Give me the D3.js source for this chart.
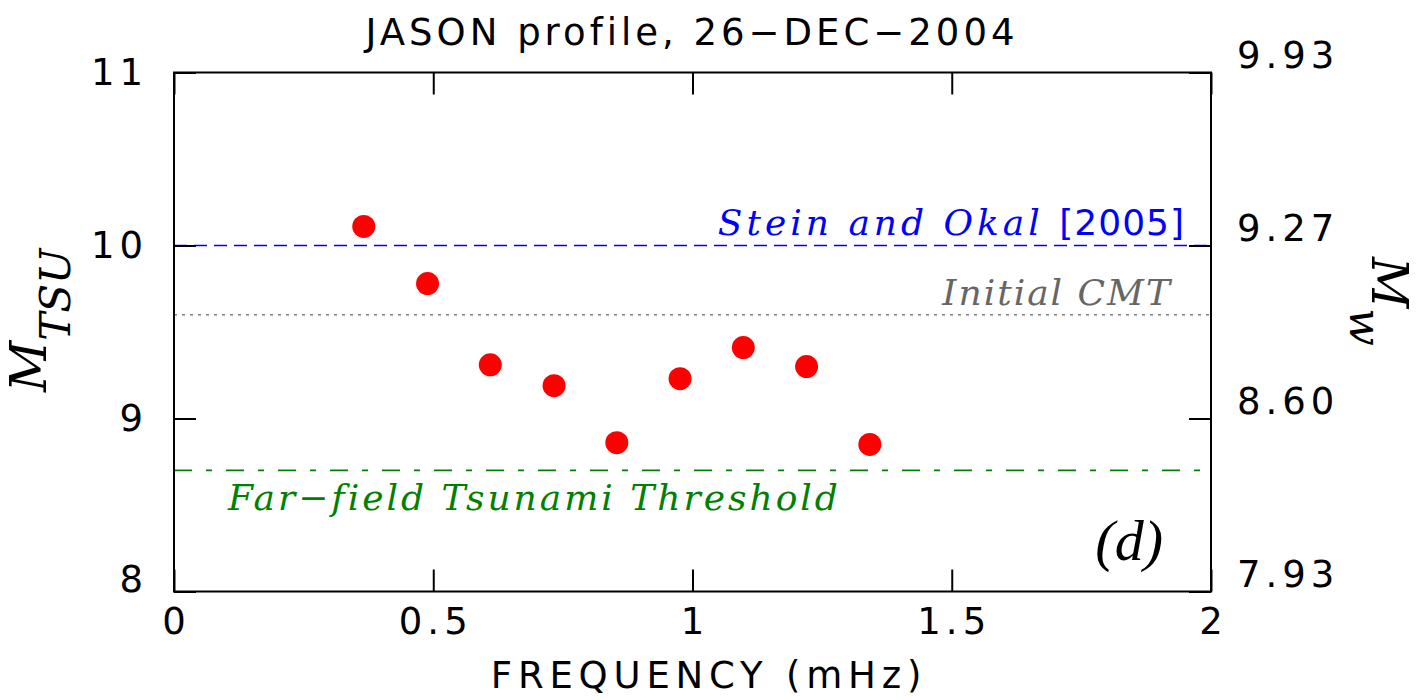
<!DOCTYPE html>
<html>
<head>
<meta charset="utf-8">
<script src="https://cdn.jsdelivr.net/npm/d3@7"></script>
<style>
  body { margin: 0; background: #fff; }
  svg { display: block; }
</style>
</head>
<body>
<div id="chart"></div>
<script>
// values
const freq = [0.366, 0.489, 0.610, 0.733, 0.854, 0.976, 1.098, 1.220, 1.342];
const mtsu = [10.11, 9.78, 9.31, 9.19, 8.86, 9.23, 9.41, 9.30, 8.85];

const xTicks = [0, 0.5, 1, 1.5, 2];
const xTickLabels = ['0', '0.5', '1', '1.5', '2'];
const yTicks = [8, 9, 10, 11];
const yTickLabels = ['8', '9', '10', '11'];
const mwTickLabels = ['7.93', '8.60', '9.27', '9.93'];

// reference levels: Stein & Okal, initial CMT, tsunami threshold
const refValues = [10.0, 9.6, 8.7];

const width = 1426;
const height = 700;
const margin = { top: 72.5, right: 215, bottom: 108.5, left: 174 };

const area = {
  left: margin.left,
  right: width - margin.right,
  top: margin.top,
  bottom: height - margin.bottom,
};

const svg = d3.select('#chart')
  .append('svg')
  .attr('width', width)
  .attr('height', height);

const xScale = d3.scaleLinear().domain([0, 2]).range([area.left, area.right]);
const yScale = d3.scaleLinear().domain([8, 11]).range([area.bottom, area.top]);

const sans = '"DejaVu Sans", sans-serif';
const serif = '"DejaVu Serif", serif';
const spacing = 5; // the plot font is narrow with wide gaps

// reference lines first, under the dots
const lines = svg.append('g').attr('class', 'ref-lines');

lines.append('line')
  .attr('x1', xScale(0)).attr('x2', xScale(2))
  .attr('y1', yScale(refValues[0])).attr('y2', yScale(refValues[0]))
  .attr('stroke', '#0000ff').attr('stroke-width', 1.6)
  .attr('stroke-dasharray', '13 7');

lines.append('line')
  .attr('x1', xScale(0)).attr('x2', xScale(2))
  .attr('y1', yScale(refValues[1])).attr('y2', yScale(refValues[1]))
  .attr('stroke', '#808080').attr('stroke-width', 1.6)
  .attr('stroke-dasharray', '3 5');

lines.append('line')
  .attr('x1', xScale(0)).attr('x2', xScale(1.98))
  .attr('y1', yScale(refValues[2])).attr('y2', yScale(refValues[2]))
  .attr('stroke', '#008000').attr('stroke-width', 1.6)
  .attr('stroke-dasharray', '18 14 6 14');

// line labels
const stein = svg.append('text')
  .attr('x', 1185).attr('y', yScale(refValues[0]) - 11)
  .attr('text-anchor', 'end')
  .attr('fill', '#0000ff')
  .style('font-size', '36px');
stein.append('tspan')
  .style('font-family', serif).style('font-style', 'italic')
  .attr('letter-spacing', 4)
  .text('Stein and Okal ');
stein.append('tspan')
  .style('font-family', sans)
  .attr('letter-spacing', 1)
  .text('[2005]');

svg.append('text')
  .attr('x', 1172).attr('y', yScale(refValues[1]) - 10)
  .attr('text-anchor', 'end')
  .attr('fill', '#666666')
  .style('font-family', serif).style('font-style', 'italic')
  .style('font-size', '36px')
  .attr('letter-spacing', 2)
  .text('Initial CMT');

svg.append('text')
  .attr('x', 228).attr('y', yScale(refValues[2]) + 40)
  .attr('fill', '#008000')
  .style('font-family', serif).style('font-style', 'italic')
  .style('font-size', '36px')
  .attr('letter-spacing', 3)
  .text('Far\u2212field Tsunami Threshold');

// data points
svg.append('g').attr('class', 'dots')
  .selectAll('circle')
  .data(d3.zip(freq, mtsu))
  .join('circle')
  .attr('cx', (d) => xScale(d[0]))
  .attr('cy', (d) => yScale(d[1]))
  .attr('r', 11.5)
  .attr('fill', '#ff0000');

// inward ticks on all four sides
const tickLen = 22;
const axes = [
  { axis: d3.axisBottom(xScale).tickValues(xTicks), t: `translate(0,${area.bottom})` },
  { axis: d3.axisTop(xScale).tickValues(xTicks), t: `translate(0,${area.top})` },
  { axis: d3.axisLeft(yScale).tickValues(yTicks), t: `translate(${area.left},0)` },
  { axis: d3.axisRight(yScale).tickValues(yTicks), t: `translate(${area.right},0)` },
];
axes.forEach(({ axis, t }) => {
  const g = svg.append('g')
    .attr('transform', t)
    .call(axis.tickSize(-tickLen).tickFormat(''));
  g.select('.domain').remove();
  g.selectAll('.tick line').attr('stroke', '#000').attr('stroke-width', 2);
});

// frame
svg.append('rect')
  .attr('x', area.left).attr('y', area.top)
  .attr('width', area.right - area.left)
  .attr('height', area.bottom - area.top)
  .attr('fill', 'none')
  .attr('stroke', '#000')
  .attr('stroke-width', 2);

// tick labels (trailing letter-spacing is compensated in x)
svg.append('g')
  .selectAll('text')
  .data(xTicks)
  .join('text')
  .attr('x', (d) => xScale(d) + spacing / 2)
  .attr('y', area.bottom + 42)
  .attr('text-anchor', 'middle')
  .attr('letter-spacing', spacing)
  .style('font-family', sans).style('font-size', '37px')
  .text((d, i) => xTickLabels[i]);

svg.append('g')
  .selectAll('text')
  .data(yTicks)
  .join('text')
  .attr('x', 143 + spacing)
  .attr('y', (d) => (d === 8 ? yScale(d) : yScale(d) + 12))
  .attr('text-anchor', 'end')
  .attr('letter-spacing', spacing)
  .style('font-family', sans).style('font-size', '37px')
  .text((d, i) => yTickLabels[i]);

svg.append('g')
  .selectAll('text')
  .data(yTicks)
  .join('text')
  .attr('x', 1237)
  .attr('y', (d) => yScale(d) - 5)
  .attr('letter-spacing', spacing)
  .style('font-family', sans).style('font-size', '37px')
  .text((d, i) => mwTickLabels[i]);

// title and axis labels
svg.append('text')
  .attr('x', 692).attr('y', 45)
  .attr('text-anchor', 'middle')
  .attr('letter-spacing', 4)
  .style('font-family', sans).style('font-size', '37px')
  .text('JASON profile, 26\u2212DEC\u22122004');

svg.append('text')
  .attr('x', 709).attr('y', 688)
  .attr('text-anchor', 'middle')
  .attr('letter-spacing', 5.8)
  .style('font-family', sans).style('font-size', '37px')
  .text('FREQUENCY (mHz)');

const yLabel = svg.append('text')
  .attr('transform', 'translate(46,392) rotate(-90)')
  .style('font-family', serif).style('font-style', 'italic');
yLabel.append('tspan').style('font-size', '50px').text('M');
yLabel.append('tspan').style('font-size', '42px').attr('dy', 24).text('TSU');

const mwLabel = svg.append('text')
  .attr('transform', 'translate(1372,257) rotate(90)')
  .style('font-family', serif).style('font-style', 'italic');
mwLabel.append('tspan').style('font-size', '50px').text('M');
mwLabel.append('tspan').style('font-size', '44px').attr('dy', 22).text('w');

svg.append('text')
  .attr('x', 1163).attr('y', 560)
  .attr('text-anchor', 'end')
  .style('font-family', '"Liberation Serif", serif').style('font-style', 'italic')
  .style('font-size', '58px')
  .text('(d)');
</script>
</body>
</html>
